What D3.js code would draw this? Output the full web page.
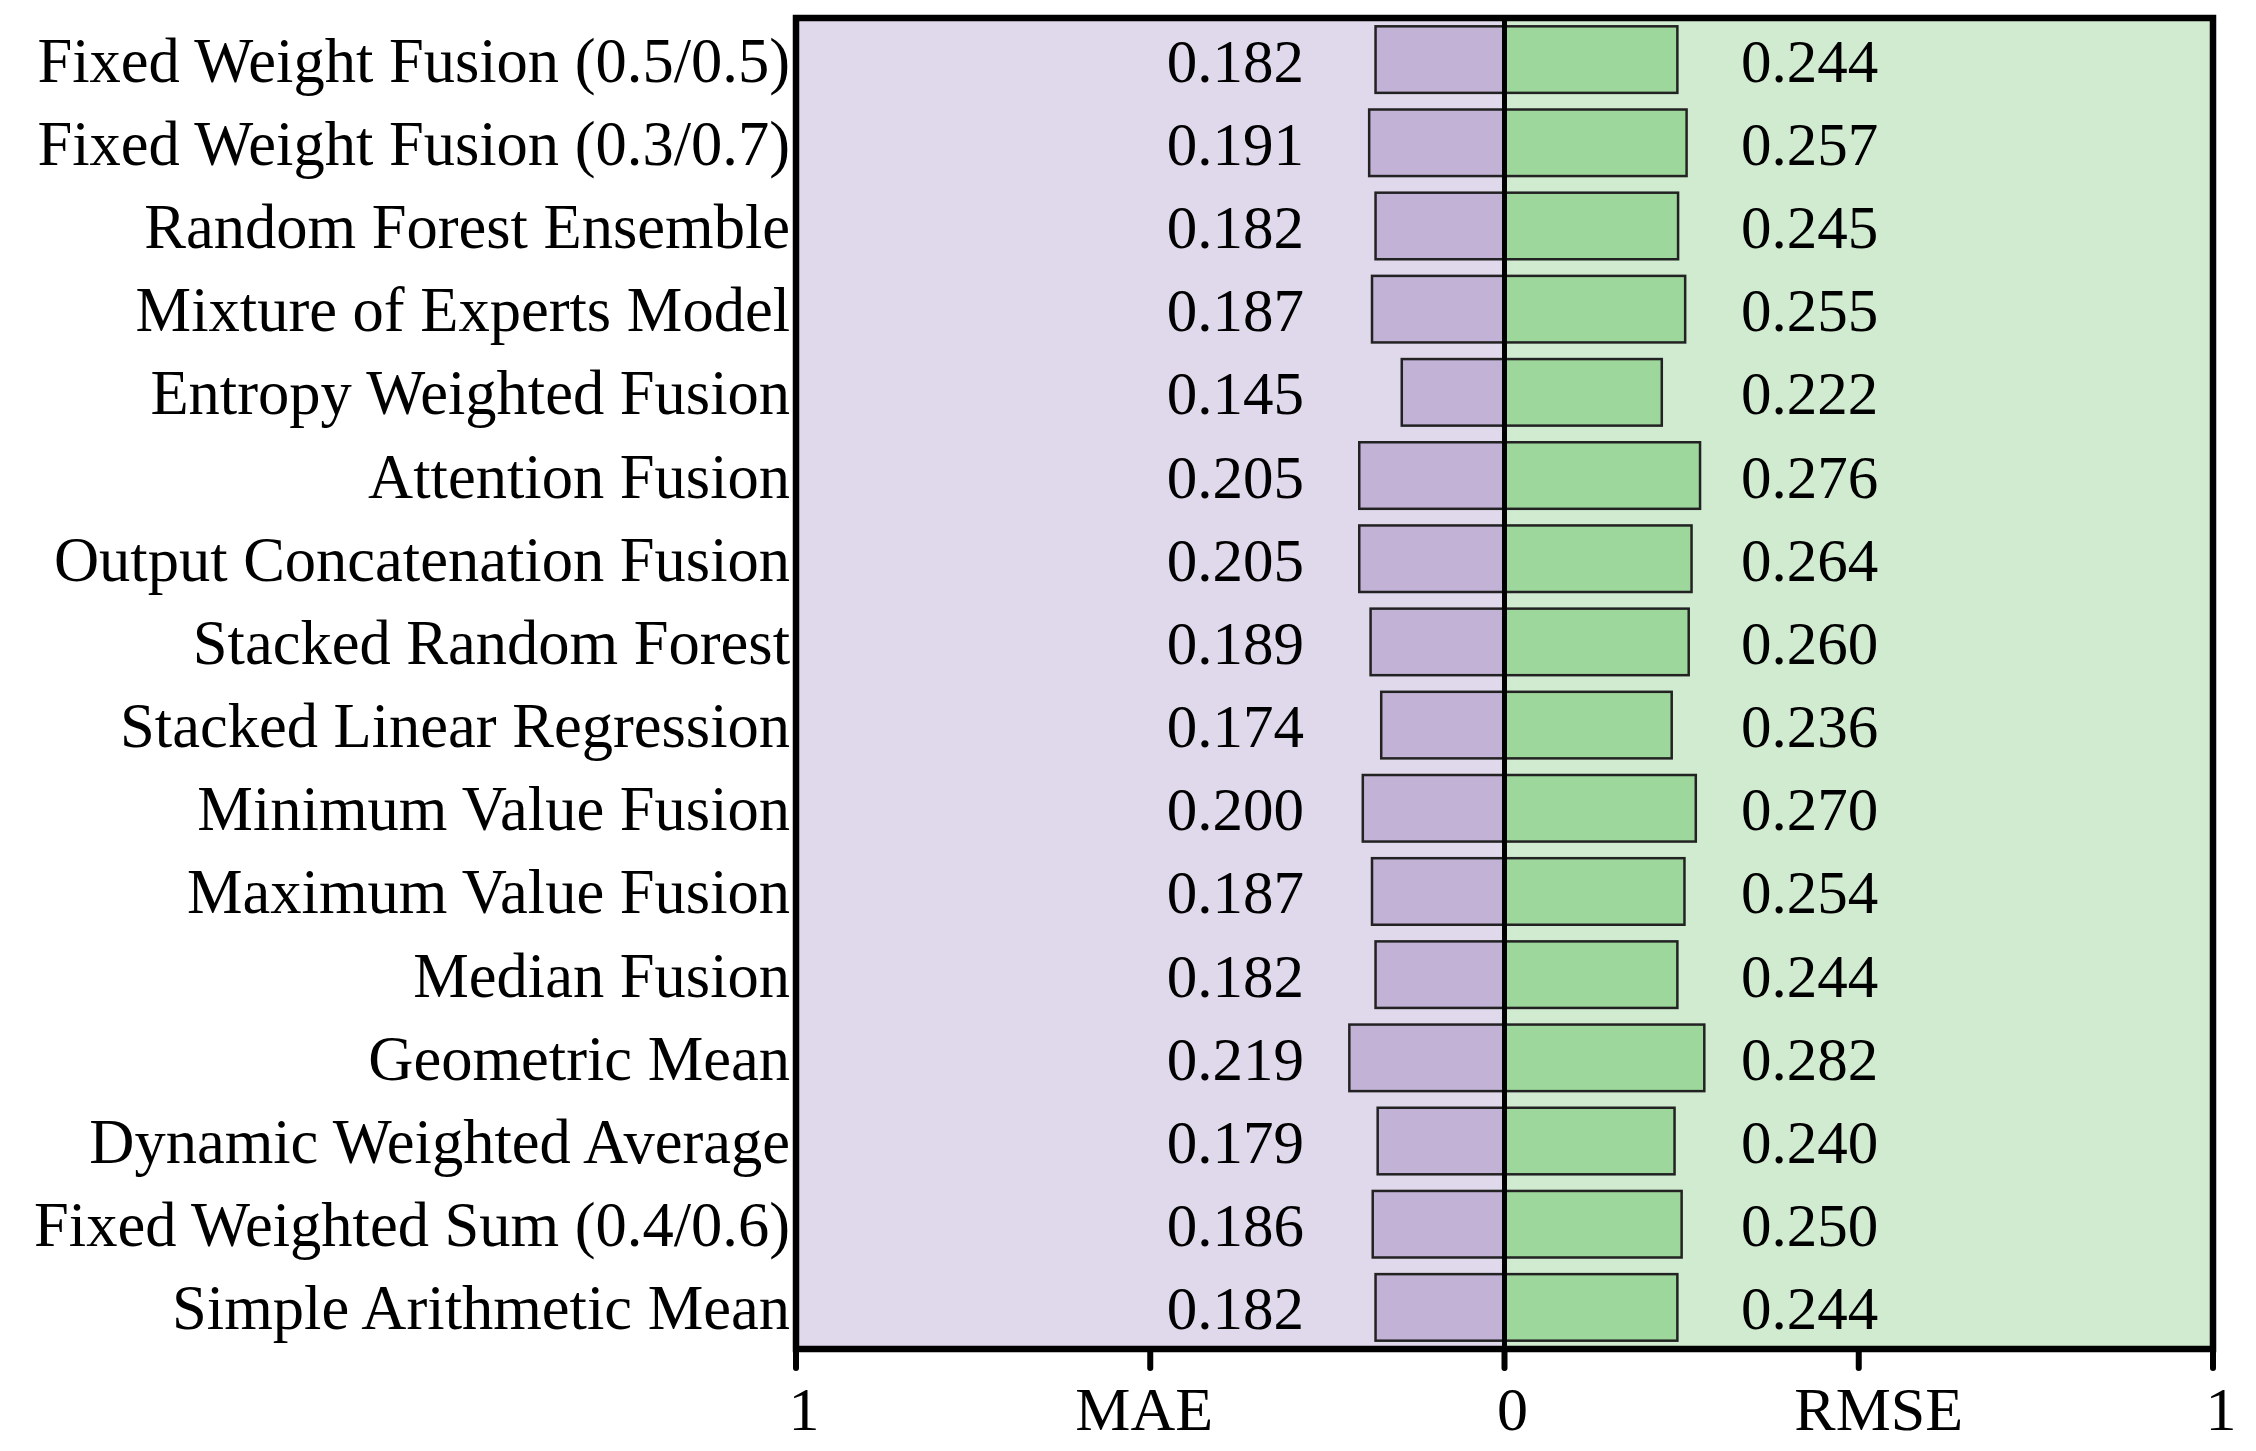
<!DOCTYPE html>
<html>
<head>
<meta charset="utf-8">
<script src="https://cdn.jsdelivr.net/npm/d3@7"></script>
<style>
  html, body { margin: 0; padding: 0; background: #ffffff; }
  svg { display: block; }
  text { font-family: "Liberation Serif", "Times New Roman", serif; fill: #000; }
</style>
</head>
<body>
<svg id="chart" width="2256" height="1451"></svg>
<script>
const categories = [
  "Fixed Weight Fusion (0.5/0.5)",
  "Fixed Weight Fusion (0.3/0.7)",
  "Random Forest Ensemble",
  "Mixture of Experts Model",
  "Entropy Weighted Fusion",
  "Attention Fusion",
  "Output Concatenation Fusion",
  "Stacked Random Forest",
  "Stacked Linear Regression",
  "Minimum Value Fusion",
  "Maximum Value Fusion",
  "Median Fusion",
  "Geometric Mean",
  "Dynamic Weighted Average",
  "Fixed Weighted Sum (0.4/0.6)",
  "Simple Arithmetic Mean"
];
const maeValues = [0.182, 0.191, 0.182, 0.187, 0.145, 0.205, 0.205, 0.189, 0.174, 0.200, 0.187, 0.182, 0.219, 0.179, 0.186, 0.182];
const rmseValues = [0.244, 0.257, 0.245, 0.255, 0.222, 0.276, 0.264, 0.260, 0.236, 0.270, 0.254, 0.244, 0.282, 0.240, 0.250, 0.244];
const tickValuesLeft = [1, 0.5, 0];
const tickLabelsLeft = ["1", "MAE", "0"];
const tickValuesRight = [0.5, 1];
const tickLabelsRight = ["RMSE", "1"];

(function () {
const svg = d3.select("#chart");
const pLeft = 796, pRight = 2213, pCenter = 1504.5, pTop = 18, pBottom = 1349;
const catFont = 62.5, valFont = 61, tickFont = 62;

const xL = d3.scaleLinear().domain([0, 1]).range([pCenter, pLeft]);
const xR = d3.scaleLinear().domain([0, 1]).range([pCenter, pRight]);
const y = d3.scaleBand().domain(categories).range([pTop, pBottom]).paddingInner(0.2).paddingOuter(0.1);

// backgrounds
svg.append("rect").attr("x", pLeft).attr("y", pTop).attr("width", pCenter - pLeft).attr("height", pBottom - pTop).attr("fill", "#e0d8eb");
svg.append("rect").attr("x", pCenter).attr("y", pTop).attr("width", pRight - pCenter).attr("height", pBottom - pTop).attr("fill", "#d0ebd0");

// bars
svg.append("g").selectAll("rect").data(categories).join("rect")
  .attr("x", (d, i) => xL(maeValues[i]))
  .attr("y", d => y(d))
  .attr("width", (d, i) => pCenter - xL(maeValues[i]))
  .attr("height", y.bandwidth())
  .attr("fill", "#c2b2d6").attr("stroke", "#222").attr("stroke-width", 2.5);
svg.append("g").selectAll("rect").data(categories).join("rect")
  .attr("x", pCenter)
  .attr("y", d => y(d))
  .attr("width", (d, i) => xR(rmseValues[i]) - pCenter)
  .attr("height", y.bandwidth())
  .attr("fill", "#9ed79c").attr("stroke", "#222").attr("stroke-width", 2.5);

// value labels
const baseOff = 22;
svg.append("g").selectAll("text").data(categories).join("text")
  .attr("x", 1304).attr("y", d => y(d) + y.bandwidth() / 2 + baseOff)
  .attr("text-anchor", "end").attr("font-size", valFont)
  .text((d, i) => maeValues[i].toFixed(3));
svg.append("g").selectAll("text").data(categories).join("text")
  .attr("x", 1741).attr("y", d => y(d) + y.bandwidth() / 2 + baseOff)
  .attr("text-anchor", "start").attr("font-size", valFont)
  .text((d, i) => rmseValues[i].toFixed(3));

// category labels
svg.append("g").selectAll("text").data(categories).join("text")
  .attr("x", 790).attr("y", d => y(d) + y.bandwidth() / 2 + baseOff)
  .attr("text-anchor", "end").attr("font-size", catFont)
  .text(d => d);

// frame
svg.append("rect").attr("x", pLeft).attr("y", pTop).attr("width", pRight - pLeft).attr("height", pBottom - pTop)
  .attr("fill", "none").attr("stroke", "#000").attr("stroke-width", 6.5);
// center line
svg.append("line").attr("x1", pCenter).attr("x2", pCenter).attr("y1", pTop).attr("y2", pBottom + 19)
  .attr("stroke", "#000").attr("stroke-width", 5).attr("stroke-linecap", "round");

// ticks
const axisG = svg.append("g");
const leftOffsets = [8, -6, 8];
const rightOffsets = [20, 8];
tickValuesLeft.forEach((v, i) => {
  const x = xL(v);
  axisG.append("line").attr("x1", x).attr("x2", x).attr("y1", pBottom).attr("y2", pBottom + 19)
    .attr("stroke", "#000").attr("stroke-width", 6).attr("stroke-linecap", "round");
  axisG.append("text").attr("x", x + leftOffsets[i]).attr("y", 1430).attr("text-anchor", "middle").attr("font-size", tickFont).text(tickLabelsLeft[i]);
});
tickValuesRight.forEach((v, i) => {
  const x = xR(v);
  axisG.append("line").attr("x1", x).attr("x2", x).attr("y1", pBottom).attr("y2", pBottom + 19)
    .attr("stroke", "#000").attr("stroke-width", 6).attr("stroke-linecap", "round");
  axisG.append("text").attr("x", x + rightOffsets[i]).attr("y", 1430).attr("text-anchor", "middle").attr("font-size", tickFont).text(tickLabelsRight[i]);
});
})();
</script>
</body>
</html>
